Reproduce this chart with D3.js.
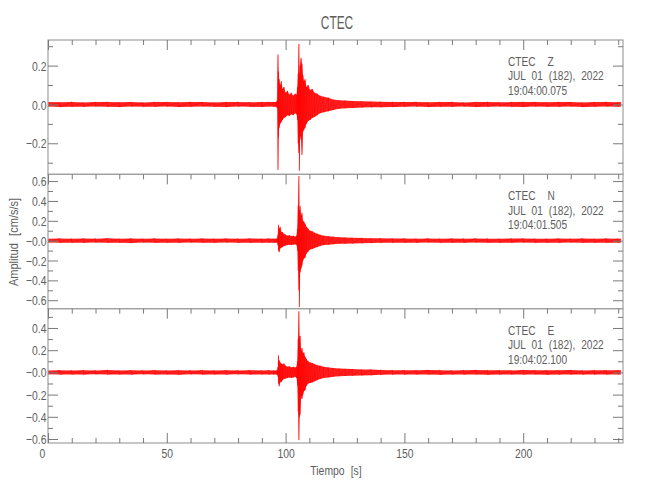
<!DOCTYPE html>
<html>
<head>
<meta charset="utf-8">
<title>CTEC</title>
<script src="https://cdn.jsdelivr.net/npm/d3@7"></script>
<style>
  body { margin: 0; background: #fff; }
  text { font-family: "Liberation Sans", Arial, sans-serif; fill: #5e5e5e; }
  .tick line { stroke: #7a7a7a; }
</style>
</head>
<body>
<div id="chart"></div>
<script>
// Tiempo de cada muestra de envolvente [s]
var tiempo = [0,5,10,15,20,25,30,35,40,45,50,55,60,65,70,75,80,85,90,93,95,
  96,96.5,96.8,97.0,97.3,97.7,98.2,98.7,99.3,100,100.8,101.6,102.4,103.2,104,104.6,
  105.0,105.3,105.6,105.8,106.1,106.5,106.9,107.3,107.7,108.2,108.8,109.5,110.3,111.2,
  112.2,113.3,114.5,116,118,120,122.5,125,128,132,136,140,145,
  150,155,160,165,170,175,180,185,190,195,200,205,210,215,220,225,230,235,240,241];

// Componente Z (max / min de cada tramo) [cm/s/s]
var zMax = [0.012,0.011,0.013,0.010,0.012,0.013,0.011,0.012,0.010,0.013,0.012,0.011,0.013,0.012,0.010,0.012,0.013,0.011,0.012,0.013,0.012,
  0.013,0.02,0.257,0.17,0.13,0.10,0.12,0.08,0.09,0.06,0.07,0.05,0.06,0.045,0.055,0.05,
  0.09,0.16,0.312,0.15,0.2,0.24,0.21,0.15,0.12,0.13,0.09,0.10,0.075,0.08,
  0.06,0.055,0.045,0.04,0.035,0.025,0.022,0.02,0.018,0.016,0.015,0.014,0.013,
  0.012,0.013,0.011,0.012,0.013,0.010,0.012,0.013,0.011,0.012,0.013,0.012,0.011,0.013,0.012,0.010,0.012,0.013,0.011,0.012];
var zMin = [-0.011,-0.013,-0.012,-0.012,-0.010,-0.012,-0.013,-0.011,-0.012,-0.012,-0.011,-0.013,-0.012,-0.010,-0.012,-0.013,-0.011,-0.012,-0.013,-0.011,-0.012,
  -0.012,-0.02,-0.337,-0.17,-0.12,-0.10,-0.09,-0.08,-0.07,-0.065,-0.055,-0.06,-0.05,-0.055,-0.045,-0.05,
  -0.08,-0.2,-0.25,-0.342,-0.16,-0.18,-0.26,-0.14,-0.13,-0.12,-0.1,-0.085,-0.08,-0.07,
  -0.065,-0.055,-0.045,-0.04,-0.035,-0.028,-0.022,-0.02,-0.018,-0.016,-0.015,-0.014,-0.013,
  -0.012,-0.011,-0.013,-0.012,-0.012,-0.011,-0.013,-0.012,-0.010,-0.012,-0.013,-0.011,-0.012,-0.012,-0.011,-0.013,-0.012,-0.011,-0.012,-0.012];

// Componente N
var nMax = [0.02,0.022,0.019,0.021,0.02,0.023,0.019,0.021,0.02,0.022,0.018,0.021,0.02,0.022,0.019,0.021,0.02,0.022,0.019,0.021,0.02,
  0.02,0.025,0.06,0.16,0.12,0.14,0.09,0.085,0.07,0.06,0.05,0.055,0.045,0.05,0.04,0.05,
  0.12,0.35,0.65,0.3,0.35,0.25,0.28,0.2,0.19,0.17,0.14,0.12,0.1,0.095,
  0.08,0.07,0.06,0.05,0.045,0.04,0.035,0.032,0.03,0.028,0.025,0.024,0.022,
  0.021,0.02,0.022,0.019,0.021,0.02,0.022,0.02,0.019,0.021,0.022,0.02,0.019,0.021,0.02,0.022,0.019,0.021,0.02,0.02];
var nMin = [-0.019,-0.021,-0.02,-0.022,-0.019,-0.021,-0.02,-0.023,-0.019,-0.021,-0.02,-0.022,-0.019,-0.02,-0.022,-0.019,-0.021,-0.02,-0.022,-0.02,-0.021,
  -0.02,-0.02,-0.05,-0.1,-0.116,-0.08,-0.07,-0.065,-0.055,-0.05,-0.045,-0.04,-0.045,-0.04,-0.035,-0.045,
  -0.1,-0.3,-0.5,-0.67,-0.32,-0.28,-0.25,-0.2,-0.18,-0.17,-0.13,-0.11,-0.09,-0.085,
  -0.075,-0.065,-0.055,-0.045,-0.04,-0.035,-0.032,-0.03,-0.028,-0.025,-0.023,-0.022,-0.021,
  -0.02,-0.021,-0.019,-0.022,-0.02,-0.021,-0.019,-0.02,-0.022,-0.02,-0.019,-0.021,-0.02,-0.022,-0.019,-0.021,-0.02,-0.021,-0.02,-0.02];

// Componente E
var eMax = [0.018,0.02,0.017,0.019,0.018,0.021,0.017,0.019,0.018,0.02,0.017,0.019,0.018,0.02,0.017,0.019,0.018,0.02,0.017,0.019,0.018,
  0.018,0.02,0.05,0.154,0.11,0.09,0.08,0.07,0.08,0.06,0.05,0.055,0.045,0.05,0.045,0.05,
  0.1,0.3,0.55,0.32,0.33,0.2,0.22,0.17,0.18,0.14,0.12,0.1,0.09,0.085,
  0.075,0.065,0.06,0.05,0.045,0.04,0.035,0.032,0.03,0.027,0.025,0.022,0.02,
  0.02,0.019,0.021,0.02,0.018,0.02,0.021,0.019,0.02,0.018,0.021,0.02,0.019,0.02,0.021,0.018,0.02,0.019,0.02,0.02];
var eMin = [-0.017,-0.019,-0.018,-0.02,-0.017,-0.019,-0.018,-0.02,-0.017,-0.019,-0.018,-0.021,-0.017,-0.019,-0.018,-0.02,-0.017,-0.019,-0.018,-0.02,-0.019,
  -0.018,-0.02,-0.04,-0.1,-0.125,-0.09,-0.085,-0.07,-0.06,-0.055,-0.05,-0.045,-0.05,-0.045,-0.04,-0.05,
  -0.12,-0.35,-0.61,-0.4,-0.38,-0.22,-0.24,-0.2,-0.17,-0.16,-0.12,-0.1,-0.095,-0.09,
  -0.08,-0.07,-0.06,-0.05,-0.045,-0.04,-0.035,-0.032,-0.03,-0.027,-0.025,-0.022,-0.02,
  -0.02,-0.018,-0.02,-0.021,-0.019,-0.02,-0.018,-0.021,-0.02,-0.019,-0.02,-0.018,-0.021,-0.02,-0.019,-0.02,-0.018,-0.02,-0.019,-0.02];

var estacion = "CTEC";
var componentes = ["Z", "N", "E"];
var fecha = "JUL 01 (182), 2022";
var horas = ["19:04:00.075", "19:04:01.505", "19:04:02.100"];
var yDominios = [[-0.36, 0.332], [-0.685, 0.668], [-0.636, 0.574]];
var yTicks = [[0.2, 0, -0.2], [0.6, 0.4, 0.2, 0, -0.2, -0.4, -0.6], [0.4, 0.2, 0, -0.2, -0.4, -0.6]];
var yTickLabels = [["0.2", "0.0", "\u22120.2"],
  ["0.6", "0.4", "0.2", "\u22120.0", "\u22120.2", "\u22120.4", "\u22120.6"],
  ["0.4", "0.2", "\u22120.0", "\u22120.2", "\u22120.4", "\u22120.6"]];
var yMenores = [[0.3, 0.1, -0.1, -0.3], [0.5, 0.3, 0.1, -0.1, -0.3, -0.5], [0.5, 0.3, 0.1, -0.1, -0.3, -0.5]];
var xTicks = [0, 50, 100, 150, 200];
var xMenores = [10,20,30,40,60,70,80,90,110,120,130,140,160,170,180,190,210,220,230,240];

var series = [
  {max: zMax, min: zMin},
  {max: nMax, min: nMin},
  {max: eMax, min: eMin}
];

var width = 650, height = 500;
var svg = d3.select("#chart").append("svg")
  .attr("width", width).attr("height", height);

var x = d3.scaleLinear().domain([0, 242]).range([48, 623]);
var panelY = d3.scaleLinear().domain([0, 3]).range([40, 443]);

// narrow the font horizontally (plot font is a thin condensed vector font)
function condensar(sel, k) {
  sel.each(function() {
    var t = d3.select(this);
    var x0 = +t.attr("x") || 0, y0 = +t.attr("y") || 0;
    t.attr("x", 0).attr("y", 0)
      .attr("transform", "translate(" + x0 + "," + y0 + ") scale(" + k + ",1)");
  });
}

svg.append("text")
  .attr("x", 337).attr("y", 29)
  .attr("text-anchor", "middle")
  .style("font-size", "18px")
  .text(estacion)
  .call(condensar, 0.66);

series.forEach(function(s, i) {
  var top = panelY(i), bottom = panelY(i + 1);
  var y = d3.scaleLinear().domain(yDominios[i]).range([bottom, top]);
  var g = svg.append("g");

  var datos = tiempo.map(function(t, k) { return {t: t, hi: s.max[k], lo: s.min[k]}; });

  g.append("clipPath").attr("id", "clip" + i)
    .append("rect").attr("x", x(0)).attr("y", top)
    .attr("width", x(242) - x(0)).attr("height", bottom - top);

  var traza = g.append("g").attr("clip-path", "url(#clip" + i + ")");

  //envelope fill
  traza.append("path")
    .datum(datos)
    .attr("fill", "#ff0000")
    .attr("fill-opacity", 0.88)
    .attr("d", d3.area()
      .x(function(d) { return x(d.t); })
      .y0(function(d) { return y(d.lo); })
      .y1(function(d) { return y(d.hi); }));

  //zigzag between max and min of each bin
  var zig = [];
  datos.forEach(function(d) { zig.push([d.t, d.hi]); zig.push([d.t, d.lo]); });
  traza.append("path")
    .datum(zig)
    .attr("fill", "none")
    .attr("stroke", "#ff0000")
    .attr("stroke-width", 0.5)
    .attr("d", d3.line()
      .x(function(d) { return x(d[0]); })
      .y(function(d) { return y(d[1]); }));

  // frame
  g.append("rect")
    .attr("x", x(0)).attr("y", top)
    .attr("width", x(242) - x(0)).attr("height", bottom - top)
    .attr("fill", "none").attr("stroke", "#a0a0a0").attr("stroke-width", 1.2);

  // y axes, left and right
  var labels = yTickLabels[i];
  var yIzq = d3.axisLeft(y).tickValues(yTicks[i]).tickSize(-10).tickPadding(2)
    .tickFormat(function(d, k) { return labels[k]; });
  var ejeY = g.append("g").attr("transform", "translate(" + x(0) + ",0)").call(yIzq);
  ejeY.selectAll("text").style("font-size", "13px").attr("x", -1.5).attr("dy", null).attr("y", 4.6)
    .call(condensar, 0.8);
  g.append("g").attr("transform", "translate(" + x(0) + ",0)")
    .call(d3.axisLeft(y).tickValues(yMenores[i]).tickSize(-5).tickFormat(""));
  g.append("g").attr("transform", "translate(" + x(242) + ",0)")
    .call(d3.axisRight(y).tickValues(yTicks[i]).tickSize(-10).tickFormat(""));
  g.append("g").attr("transform", "translate(" + x(242) + ",0)")
    .call(d3.axisRight(y).tickValues(yMenores[i]).tickSize(-5).tickFormat(""));

  // x ticks on top of each panel
  g.append("g").attr("transform", "translate(0," + top + ")")
    .call(d3.axisTop(x).tickValues(xTicks).tickSize(-10).tickFormat(""));
  g.append("g").attr("transform", "translate(0," + top + ")")
    .call(d3.axisTop(x).tickValues(xMenores).tickSize(-5).tickFormat(""));

  if (i === 2) {
    var ejeX = g.append("g").attr("transform", "translate(0," + bottom + ")")
      .call(d3.axisBottom(x).tickValues(xTicks).tickSize(-10).tickFormat(d3.format("d")));
    ejeX.selectAll("text").style("font-size", "13px").attr("dy", null).attr("y", 15)
      .attr("x", function(d) { return d === 0 ? -6 : 0; })
      .call(condensar, 0.8);
    g.append("g").attr("transform", "translate(0," + bottom + ")")
      .call(d3.axisBottom(x).tickValues(xMenores).tickSize(-5).tickFormat(""));
  }

  g.selectAll(".domain").remove();

  // station annotation
  var nota = g.append("text")
    .attr("transform", "translate(508," + (top + 26) + ") scale(0.78,1)")
    .style("font-size", "13px")
    .style("word-spacing", "4px");
  nota.append("tspan").attr("x", 0).attr("xml:space", "preserve").text(estacion + "  " + componentes[i]);
  nota.append("tspan").attr("x", 0).attr("dy", 14.5).text(fecha);
  nota.append("tspan").attr("x", 0).attr("dy", 14.5).text(horas[i]);
});

svg.append("text")
  .attr("x", 336).attr("y", 475)
  .attr("text-anchor", "middle")
  .style("font-size", "13px")
  .style("word-spacing", "4px")
  .text("Tiempo [s]")
  .call(condensar, 0.8);

svg.append("text")
  .attr("transform", "translate(18,242) rotate(-90) scale(0.85,1)")
  .attr("text-anchor", "middle")
  .style("font-size", "13px")
  .style("word-spacing", "5px")
  .text("Amplitud [cm/s/s]");
</script>
</body>
</html>
